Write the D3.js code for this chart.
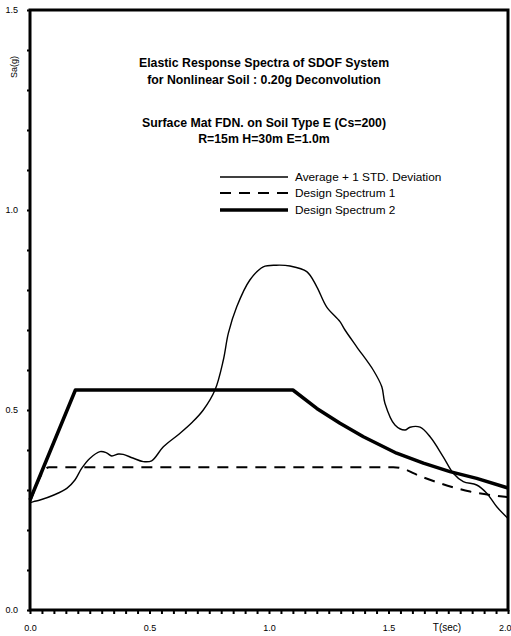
<!DOCTYPE html>
<html>
<head>
<meta charset="utf-8">
<script src="https://cdn.jsdelivr.net/npm/d3@7"></script>
<style>
  html, body { margin: 0; padding: 0; background: #fff; }
  svg { display: block; }
  text { font-family: "Liberation Sans", Arial, sans-serif; fill: #000; }
</style>
</head>
<body>
<svg id="chart" width="511" height="636"></svg>
<script>
// ---- data ----
const titleLines = [
  "Elastic Response Spectra of SDOF System",
  "for Nonlinear Soil : 0.20g Deconvolution",
  "Surface Mat FDN. on Soil Type E (Cs=200)",
  "R=15m H=30m E=1.0m"
];
const seriesNames = ["Average + 1 STD. Deviation", "Design Spectrum 1", "Design Spectrum 2"];

const avgT  = [0.0, 0.015, 0.042, 0.10, 0.154, 0.188, 0.216, 0.25, 0.293, 0.32, 0.342, 0.37, 0.39, 0.43, 0.474, 0.509, 0.558, 0.628, 0.68, 0.725, 0.774, 0.809, 0.830, 0.865, 0.92, 0.976, 1.03, 1.088, 1.158, 1.20, 1.241, 1.297, 1.318, 1.367, 1.436, 1.472, 1.485, 1.527, 1.569, 1.59, 1.632, 1.674, 1.729, 1.771, 1.813, 1.869, 1.911, 1.953, 2.0];
const avgSa = [0.268, 0.271, 0.275, 0.2875, 0.304, 0.325, 0.354, 0.379, 0.396, 0.393, 0.385, 0.39, 0.389, 0.38, 0.371, 0.373, 0.408, 0.442, 0.47, 0.50, 0.55, 0.625, 0.692, 0.758, 0.825, 0.858, 0.862, 0.86, 0.846, 0.808, 0.758, 0.721, 0.70, 0.658, 0.60, 0.558, 0.517, 0.4625, 0.45, 0.457, 0.457, 0.433, 0.383, 0.342, 0.321, 0.3125, 0.292, 0.258, 0.229];

const ds1T  = [0.0, 0.08, 1.52, 1.576, 1.604, 1.715, 1.841, 1.987, 2.0];
const ds1Sa = [0.27, 0.357, 0.357, 0.35, 0.342, 0.317, 0.296, 0.283, 0.282];

const ds2T  = [0.0, 0.19, 1.10, 1.20, 1.297, 1.395, 1.534, 1.646, 1.757, 1.869, 2.0];
const ds2Sa = [0.275, 0.55, 0.55, 0.504, 0.467, 0.433, 0.392, 0.367, 0.346, 0.329, 0.305];

const xMajor = [0.0, 0.5, 1.0, 1.5, 2.0];
const yMajor = [0.0, 0.5, 1.0, 1.5];

// ---- layout ----
const W = 511, H = 636;
const m = { left: 30, right: 3, top: 10, bottom: 26 };
const svg = d3.select("#chart");

const x = d3.scaleLinear().domain([0, 2]).range([m.left, W - m.right]);
const y = d3.scaleLinear().domain([0, 1.5]).range([H - m.bottom, m.top]);

const zip = (a, b) => a.map((t, i) => [t, b[i]]);

// axes
const xAxis = d3.axisBottom(x)
  .tickValues(d3.range(0, 40.5).map(i => i * 0.05))
  .tickSize(4)
  .tickFormat(d => xMajor.some(v => Math.abs(v - d) < 1e-6) ? d3.format(".1f")(d) : "");
const gx = svg.append("g").attr("transform", `translate(0,${y(0)})`).call(xAxis);
gx.select(".domain").remove();
gx.selectAll(".tick line").attr("stroke", "#000").attr("stroke-width", 2);
gx.selectAll(".tick text").attr("font-size", 9).attr("dy", "1.5em");
gx.selectAll(".tick text").filter(d => Math.abs(d - 2) < 1e-6)
  .attr("text-anchor", "end").attr("dx", "3px");

const yAxis = d3.axisLeft(y)
  .tickValues(d3.range(0, 15.5).map(i => i * 0.1))
  .tickSize(3)
  .tickPadding(9)
  .tickFormat(d => yMajor.some(v => Math.abs(v - d) < 1e-6) ? d3.format(".1f")(d) : "");
const gy = svg.append("g").attr("transform", `translate(${x(0)},0)`).call(yAxis);
gy.select(".domain").remove();
gy.selectAll(".tick line").attr("stroke", "#000").attr("stroke-width", 2);
gy.selectAll(".tick text").attr("font-size", 9);

// frame
svg.append("rect")
  .attr("x", x(0)).attr("y", y(1.5))
  .attr("width", x(2) - x(0)).attr("height", y(0) - y(1.5))
  .attr("fill", "none").attr("stroke", "#000").attr("stroke-width", 3);

// axis titles
svg.append("text")
  .attr("transform", `translate(17,67) rotate(-90)`)
  .attr("text-anchor", "middle").attr("font-size", 9).text("Sa(g)");
svg.append("text")
  .attr("x", 447).attr("y", 631)
  .attr("text-anchor", "middle").attr("font-size", 10).text("T(sec)");

// series
const g = svg.append("g");
g.append("path")
  .datum(zip(ds1T, ds1Sa))
  .attr("fill", "none").attr("stroke", "#000").attr("stroke-width", 2)
  .attr("stroke-dasharray", "11,8")
  .attr("d", d3.line().x(d => x(d[0])).y(d => y(d[1])).curve(d3.curveMonotoneX));
g.append("path")
  .datum(zip(ds2T, ds2Sa))
  .attr("fill", "none").attr("stroke", "#000").attr("stroke-width", 3.5)
  .attr("stroke-linejoin", "round")
  .attr("d", d3.line().x(d => x(d[0])).y(d => y(d[1])));
g.append("path")
  .datum(zip(avgT, avgSa))
  .attr("fill", "none").attr("stroke", "#000").attr("stroke-width", 1.4)
  .attr("d", d3.line().x(d => x(d[0])).y(d => y(d[1])).curve(d3.curveCatmullRom.alpha(0.5)));

// title
const titleY = [66.5, 83.5, 127, 143];
svg.append("g").selectAll("text").data(titleLines).join("text")
  .attr("x", 264).attr("y", (d, i) => titleY[i])
  .attr("text-anchor", "middle")
  .attr("font-size", 12.3).attr("font-weight", "bold")
  .text(d => d);

// legend
const legY = [177, 193, 210];
const legStyles = [
  { w: 1.4, dash: null },
  { w: 2, dash: "11,8" },
  { w: 3.5, dash: null }
];
const leg = svg.append("g");
seriesNames.forEach((name, i) => {
  leg.append("line")
    .attr("x1", 220).attr("x2", 288)
    .attr("y1", legY[i]).attr("y2", legY[i])
    .attr("stroke", "#000").attr("stroke-width", legStyles[i].w)
    .attr("stroke-dasharray", legStyles[i].dash);
  leg.append("text")
    .attr("x", 295).attr("y", legY[i]).attr("dy", "0.35em")
    .attr("font-size", 11.8).text(name);
});
</script>
</body>
</html>
